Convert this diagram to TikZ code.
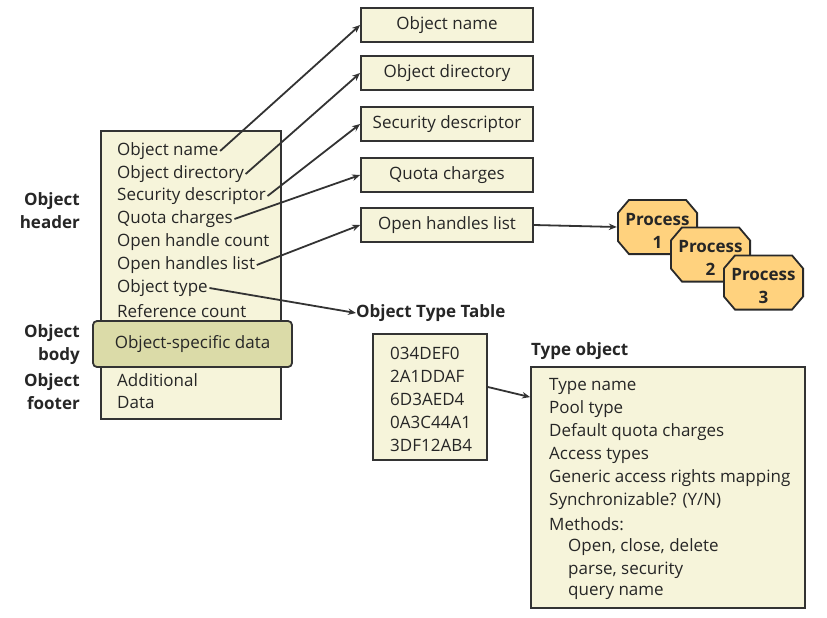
\documentclass[tikz,border=0pt]{standalone}
\usepackage{fontspec}
\setmainfont{Open Sans}
\usetikzlibrary{arrows.meta}

\definecolor{boxfill}{HTML}{F6F4DA}
\definecolor{bodyfill}{HTML}{DBDBA8}
\definecolor{procfill}{HTML}{FFD27E}
\definecolor{ink}{HTML}{333333}
\definecolor{txt}{HTML}{262626}

\tikzset{
  item/.style={anchor=west, inner sep=1.5pt, yshift=-2pt, text=txt, font=\fontsize{17}{23}\selectfont},
  frame/.style={draw=ink, line width=1.8pt, fill=boxfill},
  field/.style={frame, minimum width=172pt, minimum height=34pt, inner sep=0pt, text=txt, font=\fontsize{17}{23}\selectfont},
  body/.style={draw=ink, line width=1.8pt, fill=bodyfill, rounded corners=4pt, minimum width=199pt, minimum height=46pt, text=txt, font=\fontsize{17}{23}\selectfont},
  head/.style={anchor=east, align=right, inner sep=0pt, text=txt, font=\fontsize{17}{23}\selectfont\bfseries},
  proc/.style={minimum width=81pt, minimum height=56pt, inner sep=0pt, align=center, text=txt,
    font=\fontsize{17}{23}\selectfont\bfseries,
    path picture={
      \path[draw=ink!80!black, fill=procfill, line width=1.8pt]
        ([xshift=12pt,yshift=-0.9pt]path picture bounding box.north west)
        -- ([xshift=-12pt,yshift=-0.9pt]path picture bounding box.north east)
        -- ([xshift=-0.9pt,yshift=-14pt]path picture bounding box.north east)
        -- ([xshift=-0.9pt,yshift=14pt]path picture bounding box.south east)
        -- ([xshift=-12pt,yshift=0.9pt]path picture bounding box.south east)
        -- ([xshift=12pt,yshift=0.9pt]path picture bounding box.south west)
        -- ([xshift=0.9pt,yshift=14pt]path picture bounding box.south west)
        -- ([xshift=0.9pt,yshift=-14pt]path picture bounding box.north west)
        -- cycle;}},
  link/.style={draw=ink, line width=1.8pt, -{Stealth[length=8pt,width=6.5pt]}}
}
\newcommand{\tallstrut}{\rule{0pt}{19pt}}

\begin{document}
\begin{tikzpicture}[x=1pt, y=-1pt]
\useasboundingbox (0,0) rectangle (827,618);

%cabecalho do objeto
\node[frame, minimum width=180pt, minimum height=288pt] (hdr) at (191,275) {};
\foreach \n/\t/\y in {oname/Object name/149, odir/Object directory/172, osec/Security descriptor/194,
  oquota/Quota charges/217, ocount/Open handle count/240, olist/Open handles list/263,
  otype/Object type/286, oref/Reference count/309, oadd/Additional/378, odata/Data/401}
  \node[item] (\n) at (115.5,\y) {\t};

%corpo do objeto
\node[body] (obody) at (192.5,344) {Object-specific data};

%rotulos
\node[head] (lhdr) at (80,210.5) {Object\\header};
\node[head] (lbody) at (80,345) {Object\\body};
\node[head] (lfoot) at (80,391.5) {Object\\footer};

%caixas da direita
\foreach \n/\t/\y in {bname/Object name/25, bdir/Object directory/73, bsec/Security descriptor/124,
  bquota/Quota charges/175, blist/Open handles list/225}
  \node[field] (\n) at (447,\y) {\t};

\draw[link] (oname.east) -- (bname.west);
\draw[link] (odir.east) -- (bdir.west);
\draw[link] (osec.east) -- (bsec.west);
\draw[link] (oquota.east) -- (bquota.west);
\draw[link] (olist.east) -- (blist.west);

%processos
\node[proc] (p1) at (657.5,227) {\tallstrut Process\\1};
\node[proc] (p2) at (710.5,254.5) {\tallstrut Process\\2};
\node[proc] (p3) at (763.5,282.5) {\tallstrut Process\\3};
\draw[link] (blist.east) -- (p1.west);

%tabela de tipos
\node[head, anchor=west] (ttl) at (356,313) {Object Type Table};
\draw[link] (otype.east) -- (ttl.west);
\node[frame, minimum width=114pt, minimum height=126pt] (tbl) at (430,397) {};
\foreach \n/\t/\y in {t1/034DEF0/351, t2/2A1DDAF/374, t3/6D3AED4/397, t4/0A3C44A1/420, t5/3DF12AB4/443}
  \node[item] (\n) at (388.5,\y) {\t};

%objeto tipo
\node[head, anchor=west] (tol) at (531,351) {Type object};
\node[frame, minimum width=274pt, minimum height=241pt] (tbox) at (668,487.5) {};
\foreach \n/\t/\x/\y in {s1/Type name/547.5/384, s2/Pool type/547.5/407, s3/Default quota charges/547.5/430,
  s4/Access types/547.5/453, s5/Generic access rights mapping/547.5/476, s6/{Synchronizable? (Y/N)}/547.5/499,
  s7/Methods:/547.5/522, s8/{Open, close, delete}/566.5/545, s9/{parse, security}/566.5/568, s10/query name/566.5/591}
  \node[item] (\n) at (\x,\y) {\t};
\draw[link] ([yshift=10pt]tbl.east) -- ([yshift=-31pt]tbox.north west);

\end{tikzpicture}
\end{document}
